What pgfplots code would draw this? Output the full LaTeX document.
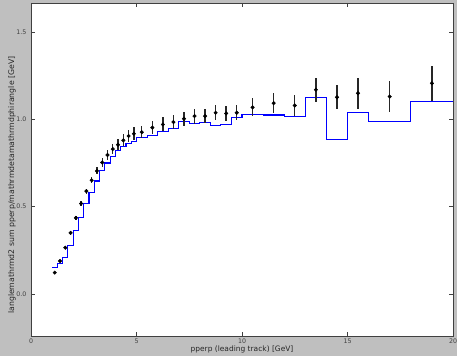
\documentclass[border=0pt]{standalone}
\usepackage{pgfplots}
\pgfplotsset{compat=1.18}
\usepackage{fontspec}
\setmainfont{DejaVu Sans}
\definecolor{figbg}{HTML}{BFBFBF}
\definecolor{tickgray}{HTML}{404040}
\definecolor{histblue}{HTML}{0000FF}
\begin{document}
\begin{tikzpicture}[x=1bp,y=1bp]
\fill[figbg] (0,0) rectangle (457,356);
\begin{axis}[
  at={(31bp,20bp)}, anchor=south west,
  scale only axis, width=422bp, height=333bp,
  xmin=0, xmax=20, ymin=-0.241, ymax=1.667,
  axis background/.style={fill=white},
  axis line style={black!75, line width=0.8bp},
  tick align=inside,
  major tick length=4bp,
  tick style={black!75, line width=0.6bp},
  xtick={0,5,10,15,20},
  ytick={0,0.5,1.0,1.5},
  /pgf/number format/assume math mode=true,
  yticklabel style={/pgf/number format/fixed, /pgf/number format/fixed zerofill, /pgf/number format/precision=1, xshift=-1bp},
  ticklabel style={font=\fontsize{6.3}{7}\selectfont, text=tickgray},
  xticklabel style={yshift=1bp},
  xlabel={pperp (leading track) [GeV]},
  ylabel={langlemathrmd2 sum pperp/mathrmdetamathrmdphirangle [GeV]},
  every axis x label/.style={at={(axis description cs:0.5,-0.041)}, anchor=center, font=\fontsize{7.5}{8}\selectfont, text=black!85},
  every axis y label/.style={at={(axis description cs:-0.045,0.453)}, rotate=90, anchor=center, font=\fontsize{7.8}{8}\selectfont, text=black!85},
  title={Transverse sum pperp density vs pperp(leading track) sqrts = 900 GeV},
  every axis title/.style={at={(axis description cs:0.5,1)}, anchor=base, yshift=4bp, font=\fontsize{8}{9}\selectfont, text=black!70},
  clip=true,
]
\addplot[draw=histblue, color=histblue, line width=1.1bp, const plot mark left, mark=none] coordinates {
(1.0,0.149) (1.25,0.177) (1.5,0.21) (1.75,0.28) (2.0,0.362) (2.25,0.44)
(2.5,0.52) (2.75,0.583) (3.0,0.647) (3.25,0.705) (3.5,0.75) (3.75,0.79)
(4.0,0.82) (4.25,0.845) (4.5,0.86) (4.75,0.875) (5.0,0.895) (5.5,0.91)
(6.0,0.93) (6.5,0.947) (7.0,0.99) (7.5,0.975) (8.0,0.981) (8.5,0.966)
(9.0,0.971) (9.5,1.01) (10,1.029) (11,1.025) (12,1.017) (13,1.124)
(14,0.884) (15,1.038) (16,0.987) (18,1.105) (20,1.105)
};
\addplot[only marks, mark=*, mark size=1.8bp, black,
  error bars/.cd, y dir=both, y explicit,
  error bar style={line width=1.4bp, black!85}, error mark=none]
table[x=x, y=y, y error=e] {
x y e
1.125 0.122 0.005
1.375 0.189 0.006
1.625 0.265 0.007
1.875 0.35 0.009
2.125 0.436 0.011
2.375 0.518 0.013
2.625 0.589 0.015
2.875 0.651 0.018
3.125 0.705 0.02
3.375 0.753 0.024
3.625 0.796 0.027
3.875 0.83 0.03
4.125 0.855 0.032
4.375 0.88 0.034
4.625 0.905 0.036
4.875 0.918 0.037
5.25 0.927 0.033
5.75 0.953 0.036
6.25 0.971 0.04
6.75 0.985 0.042
7.25 1.004 0.04
7.75 1.019 0.043
8.25 1.019 0.042
8.75 1.038 0.043
9.25 1.034 0.043
9.75 1.038 0.043
10.5 1.069 0.052
11.5 1.093 0.057
12.5 1.08 0.059
13.5 1.17 0.07
14.5 1.127 0.07
15.5 1.15 0.09
17 1.131 0.089
19 1.207 0.1
};
\end{axis}
\pgfresetboundingbox
\useasboundingbox (0,0) rectangle (457,356);
\end{tikzpicture}
\end{document}
